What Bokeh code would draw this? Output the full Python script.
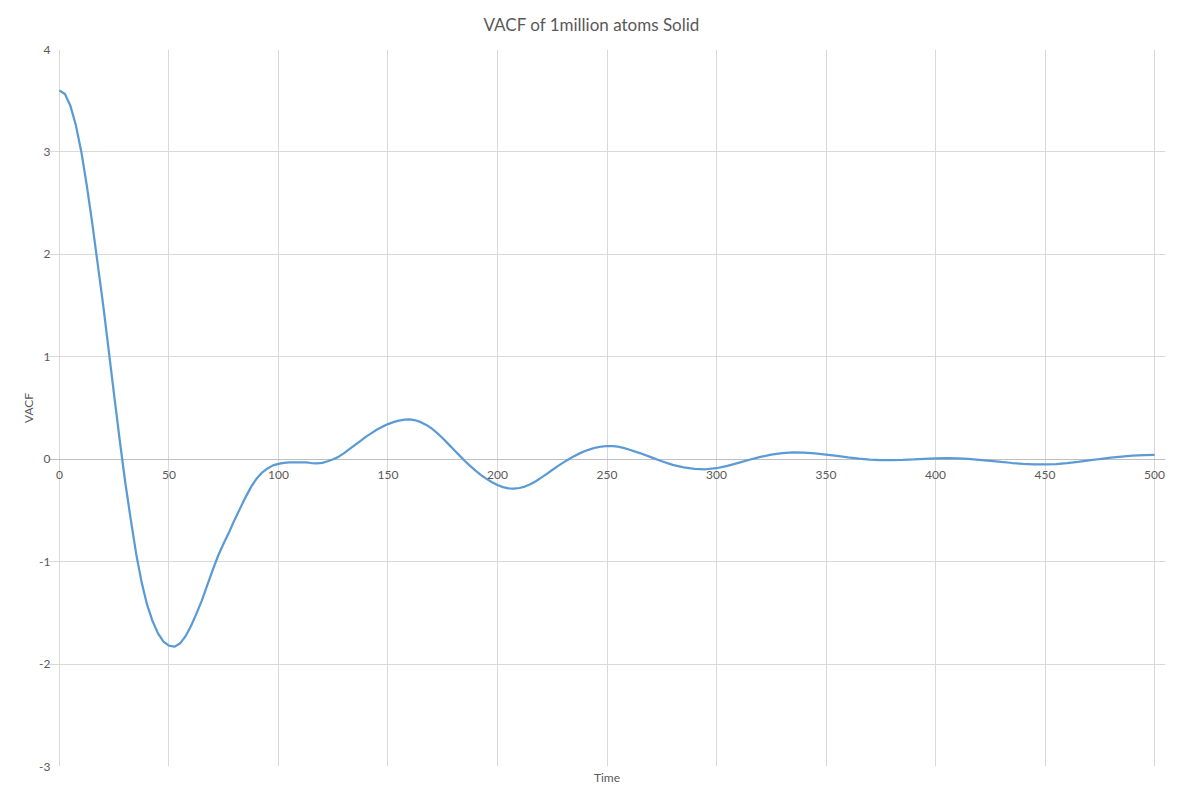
from bokeh.plotting import figure
from bokeh.models import Range1d, FixedTicker, LabelSet, ColumnDataSource, Grid, CustomJSTickFormatter
from bokeh.core.properties import value
from bokeh.embed import file_html
from bokeh.resources import INLINE

# time samples: every 2.5 up to 260, then every 5
time = [i * 2.5 for i in range(105)] + list(range(265, 505, 5))
vacf = [
    # 0 - 30
    3.60, 3.565, 3.45, 3.26, 3.00, 2.67, 2.30, 1.90, 1.50, 1.06, 0.62, 0.19, -0.22,
    # 32.5 - 60
    -0.58, -0.92, -1.20, -1.42, -1.58, -1.70, -1.78, -1.82, -1.83, -1.80, -1.73, -1.63,
    # 62.5 - 90
    -1.51, -1.38, -1.23, -1.08, -0.94, -0.82, -0.71, -0.59, -0.48, -0.37, -0.27, -0.19,
    # 92.5 - 120
    -0.13, -0.09, -0.06, -0.045, -0.035, -0.03, -0.03, -0.03, -0.032, -0.037, -0.04, -0.035,
    # 122.5 - 150
    -0.02, 0.00, 0.025, 0.06, 0.10, 0.14, 0.18, 0.22, 0.255, 0.29, 0.318, 0.343,
    # 152.5 - 180
    0.362, 0.377, 0.386, 0.388, 0.38, 0.362, 0.335, 0.30, 0.255, 0.205, 0.15, 0.095,
    # 182.5 - 210
    0.04, -0.015, -0.065, -0.112, -0.155, -0.192, -0.225, -0.252, -0.272, -0.284, -0.287, -0.281,
    # 212.5 - 240
    -0.267, -0.245, -0.215, -0.18, -0.143, -0.105, -0.068, -0.033, 0.0, 0.03, 0.057, 0.08,
    # 242.5 - 260
    0.099, 0.114, 0.124, 0.129, 0.128, 0.122, 0.11, 0.095,
    # 265 - 310
    0.06, 0.02, -0.02, -0.055, -0.08, -0.095, -0.098, -0.088, -0.065, -0.035,
    # 315 - 360
    -0.005, 0.022, 0.045, 0.06, 0.066, 0.064, 0.056, 0.045, 0.032, 0.018,
    # 365 - 410
    0.006, -0.004, -0.009, -0.01, -0.007, -0.002, 0.004, 0.009, 0.011, 0.009,
    # 415 - 460
    0.003, -0.006, -0.016, -0.027, -0.037, -0.045, -0.05, -0.051, -0.047, -0.038,
    # 465 - 500
    -0.026, -0.012, 0.002, 0.015, 0.026, 0.034, 0.039, 0.042,
]

x_ticks = [0, 50, 100, 150, 200, 250, 300, 350, 400, 450, 500]
x_tick_labels = [str(v) for v in x_ticks]
y_ticks = [-3, -2, -1, 0, 1, 2, 3, 4]

FONT = "Lato"
GREY = "#595959"

# frame slightly wider than 0..500 so the edge tick labels are not clipped
p = figure(frame_width=1117, frame_height=717,
           x_range=Range1d(-5, 505), y_range=Range1d(-3, 4),
           output_backend="svg", toolbar_location=None,
           min_border_left=48, min_border_right=13, min_border_top=48, min_border_bottom=35)
p.outline_line_color = None
p.background_fill_color = "white"
p.border_fill_color = "white"

p.title.text = "VACF of 1million atoms Solid"
p.title.align = "left"
p.title.offset = 435
p.title.vertical_align = "top"
p.title.text_font = FONT
p.title.text_font_size = "17px"
p.title.text_font_style = "normal"
p.title.text_color = GREY
p.title.standoff = 26

# bottom axis: only the "Time" label
xa = p.xaxis[0]
xa.ticker = FixedTicker(ticks=[])
xa.axis_line_color = None
xa.major_tick_line_color = None
xa.minor_tick_line_color = None
xa.major_tick_out = 0
xa.major_tick_in = 0
xa.axis_label = "Time"
xa.axis_label_text_font = FONT
xa.axis_label_text_font_size = "12px"
xa.axis_label_text_font_style = "normal"
xa.axis_label_text_color = GREY
xa.axis_label_standoff = 3

ya = p.yaxis[0]
ya.ticker = FixedTicker(ticks=y_ticks)
ya.formatter = CustomJSTickFormatter(code="return tick.toString()")
ya.axis_line_color = None
ya.major_tick_line_color = None
ya.minor_tick_line_color = None
ya.major_tick_out = 0
ya.major_tick_in = 0
ya.major_label_text_font = FONT
ya.major_label_text_font_size = "12px"
ya.major_label_text_color = GREY
ya.major_label_standoff = -2
ya.axis_label = "VACF"
ya.axis_label_text_font = FONT
ya.axis_label_text_font_size = "12px"
ya.axis_label_text_font_style = "normal"
ya.axis_label_text_color = GREY
ya.axis_label_standoff = 0

p.xgrid.ticker = FixedTicker(ticks=x_ticks)
p.ygrid.ticker = FixedTicker(ticks=y_ticks)
p.ygrid.bounds = (0, 500)
p.xgrid.grid_line_color = "#d9d9d9"
p.ygrid.grid_line_color = "#d9d9d9"

# horizontal axis line crossing at y = 0
p.add_layout(Grid(dimension=1, ticker=FixedTicker(ticks=[0]), bounds=(0, 500),
                  grid_line_color="#bfbfbf"))
tick_src = ColumnDataSource(dict(x=x_ticks, y=[0] * len(x_ticks), text=x_tick_labels))
p.add_layout(LabelSet(x="x", y="y", text="text", source=tick_src,
                      text_align="center", text_baseline="top", y_offset=-12,
                      text_font=value(FONT), text_font_size=value("12px"),
                      text_color=GREY))

p.line(time, vacf, line_color="#5b9bd5", line_width=2.25)

open("out.html", "w").write(file_html(p, INLINE))
